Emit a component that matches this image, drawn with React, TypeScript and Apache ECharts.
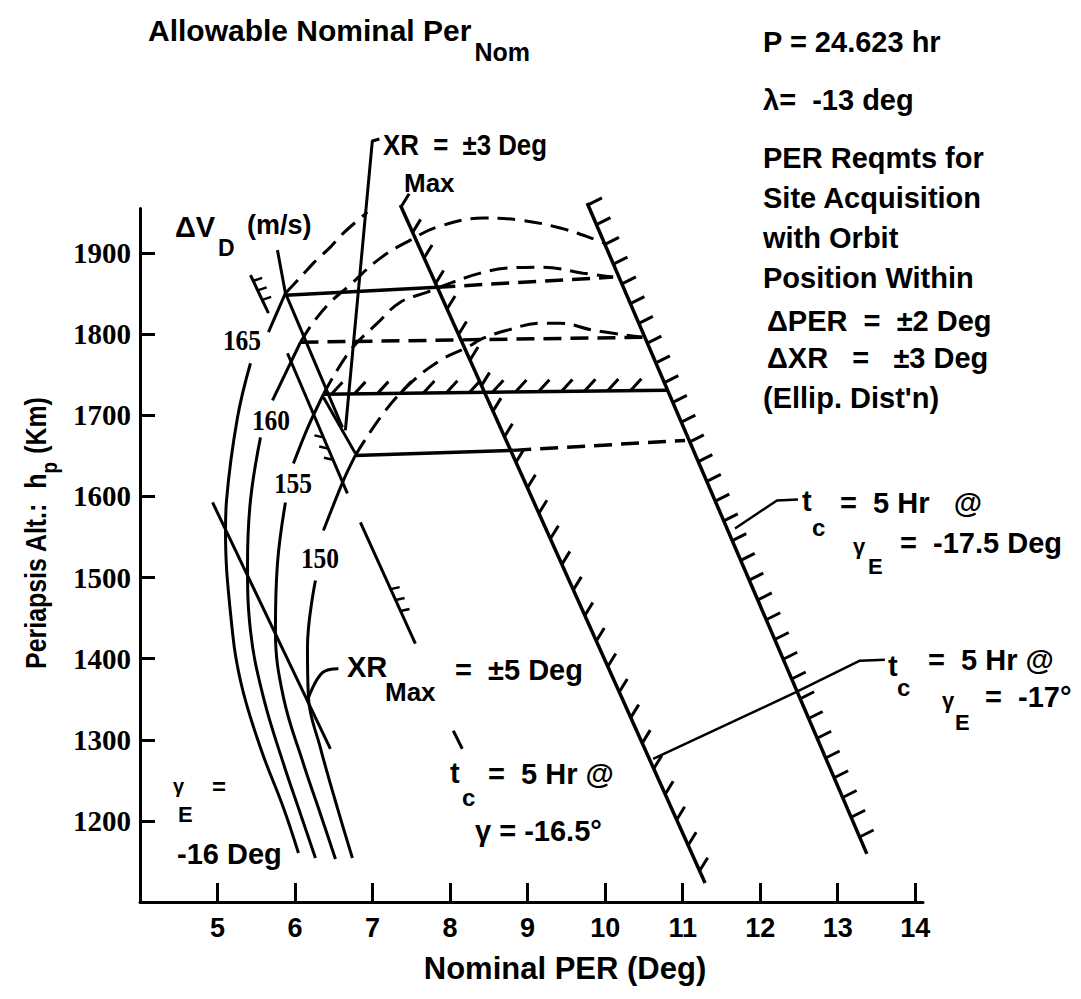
import React, { useEffect, useRef } from "react";
import * as echarts from "echarts";

type P = [number, number];

// ---- axes ----
const xTickValues = [5, 6, 7, 8, 9, 10, 11, 12, 13, 14];
const yTickValues = [1200, 1300, 1400, 1500, 1600, 1700, 1800, 1900];

// ---- ΔV_D contours (m/s): solid lower part, solid part above label gap, dashed continuation ----
const dv165Lower: P[] = [[6.044, 1160.5], [5.851, 1216.0], [5.554, 1290.1], [5.296, 1372.8], [5.168, 1455.6], [5.103, 1558.0], [5.116, 1595.1], [5.258, 1697.5], [5.425, 1764.2]];
const dv165Upper: P[] = [[5.657, 1802.5], [5.876, 1850.6]];
const dv165Dash: P[] = [[5.876, 1850.6], [6.095, 1872.8], [6.237, 1887.7], [6.456, 1907.4], [6.624, 1924.7], [6.933, 1950.6]];

const dv160Lower: P[] = [[6.263, 1154.3], [6.070, 1208.6], [5.851, 1270.4], [5.593, 1351.9], [5.425, 1434.6], [5.387, 1517.3], [5.425, 1595.1], [5.554, 1672.8]];
const dv160Upper: P[] = [[5.709, 1718.5], [6.070, 1790.1]];
const dv160Dash: P[] = [[6.070, 1790.1], [6.237, 1814.8], [6.456, 1839.5], [6.675, 1858.0], [7.101, 1893.8], [7.487, 1916.0], [7.835, 1932.1], [8.428, 1943.2], [8.905, 1940.7], [9.420, 1930.9], [9.897, 1916.0], [9.987, 1912.3]];

const dv155Lower: P[] = [[6.521, 1153.1], [6.327, 1208.6], [6.108, 1270.4], [5.851, 1351.9], [5.747, 1434.6], [5.773, 1517.3], [5.876, 1592.6]];
const dv155Upper: P[] = [[5.979, 1640.7], [6.160, 1684.0], [6.366, 1726.0]];
const dv155Dash: P[] = [[6.366, 1726.0], [6.714, 1780.2], [7.062, 1813.6], [7.358, 1839.5], [7.706, 1851.9], [8.003, 1863.0], [8.389, 1875.3], [8.737, 1881.5], [9.201, 1882.7], [9.716, 1875.3], [10.103, 1870.4]];

const dv150Lower: P[] = [[6.740, 1154.3], [6.546, 1216.0], [6.327, 1290.1], [6.173, 1351.9], [6.160, 1413.6], [6.263, 1496.3]];
const dv150Upper: P[] = [[6.366, 1558.0], [6.624, 1619.8], [6.778, 1650.6]];
const dv150Dash: P[] = [[6.778, 1650.6], [7.139, 1702.5], [7.487, 1739.5], [7.874, 1767.9], [8.222, 1784.0], [8.428, 1795.1], [8.737, 1804.9], [9.162, 1813.6], [9.420, 1813.6], [9.845, 1804.9], [10.477, 1796.3]];

// ---- allowable nominal PER bands (horizontal lines) ----
const per1850Solid: P[] = [[5.876, 1848.1], [7.835, 1858.0]];
const per1850Dash: P[] = [[7.835, 1858.0], [10.103, 1870.4]];
const per1790Dash: P[] = [[6.070, 1790.1], [10.490, 1796.3]];
const per1725Hatched = [6.366, 1726.0, 10.799, 1730.9];
const per1650Solid: P[] = [[6.778, 1650.6], [8.814, 1656.8]];
const per1650Dash: P[] = [[8.814, 1656.8], [11.031, 1669.1]];

// ---- t_c = 5 Hr boundaries (hatched) ----
const tcGamma165 = [7.358, 1959.3, 11.289, 1123.5];
const tcGamma175 = [9.768, 1961.7, 13.376, 1159.3];

// ---- cross-range lines on the left ----
const xrLineA: P[] = [[5.773, 1903.7], [5.876, 1850.6], [6.611, 1685.2]];
const xrLineBHatched = [5.902, 1776.5, 6.675, 1603.7];
const xrLineC: P[] = [[6.366, 1722.2], [6.778, 1653.1]];
const shortHatched = [5.425, 1872.8, 5.657, 1825.9];
const gamma16Line: P[] = [[4.936, 1592.6], [6.456, 1288.9]];
const xr5Hatched = [6.843, 1567.9, 7.552, 1418.5];
const xr3Line: P[] = [[7.088, 2040.7], [6.997, 2038.3], [6.649, 1681.5]];

// ---- label leaders ----
const leaderXR5: P[] = [[6.559, 1387.7], [6.353, 1382.7], [6.173, 1351.9]];
const leaderTc: P[] = [[8.041, 1311.1], [8.157, 1288.9]];
const leader175: P[] = [[12.487, 1596.3], [12.216, 1595.1], [11.675, 1560.5]];
const leader17: P[] = [[13.608, 1398.8], [13.286, 1397.5], [12.448, 1358.0], [10.619, 1276.5]];

const SANS = "'Liberation Sans', Arial, sans-serif";
const SERIF = "'Liberation Serif', 'Times New Roman', serif";
const SX = 1;
const DASH = [18, 9];

function line(data: P[], opts: { dash?: boolean; width?: number; smooth?: number } = {}) {
  return {
    type: "line",
    data,
    symbol: "none",
    showSymbol: false,
    smooth: opts.smooth ?? 0,
    clip: false,
    silent: true,
    animation: false,
    lineStyle: { color: "#000", width: opts.width ?? 3, type: opts.dash ? DASH : "solid", cap: "butt" },
  };
}

type Hatch = { width: number; tickWidth: number; tx: number; ty: number; step?: number; start?: number; end?: number; fractions?: number[] };

function hatched(seg: number[], cfg: Hatch) {
  return {
    type: "custom",
    clip: false,
    silent: true,
    data: [seg],
    encode: { x: [0, 2], y: [1, 3] },
    renderItem: (_p: any, api: any) => {
      const a = api.coord([api.value(0), api.value(1)]);
      const b = api.coord([api.value(2), api.value(3)]);
      const dx = b[0] - a[0];
      const dy = b[1] - a[1];
      const len = Math.hypot(dx, dy);
      const children: any[] = [
        { type: "line", shape: { x1: a[0], y1: a[1], x2: b[0], y2: b[1] }, style: { stroke: "#000", lineWidth: cfg.width } },
      ];
      const ts: number[] = cfg.fractions ? cfg.fractions.slice() : [];
      if (cfg.step) {
        for (let d = cfg.start ?? 0; d <= len - (cfg.end ?? 0); d += cfg.step) ts.push(d / len);
      }
      for (const t of ts) {
        const x = a[0] + dx * t;
        const y = a[1] + dy * t;
        children.push({ type: "line", shape: { x1: x, y1: y, x2: x + cfg.tx, y2: y + cfg.ty }, style: { stroke: "#000", lineWidth: cfg.tickWidth } });
      }
      return { type: "group", children };
    },
  };
}

let measureCtx: CanvasRenderingContext2D | null = null;
function measure(text: string, size: number, family = SANS, sx = SX) {
  if (!measureCtx) measureCtx = document.createElement("canvas").getContext("2d");
  if (!measureCtx) return text.length * size * 0.5 * sx;
  measureCtx.font = `bold ${size}px ${family}`;
  return measureCtx.measureText(text).width * sx;
}

function txt(x: number, y: number, text: string, size = 29, o: { align?: string; ff?: string; sx?: number } = {}) {
  const align = o.align ?? "left";
  return {
    type: "text",
    x,
    y,
    scaleX: o.sx ?? SX,
    silent: true,
    z: 100,
    style: {
      text,
      fontSize: size,
      fontWeight: "bold",
      fontFamily: o.ff ?? SANS,
      fill: "#000",
      align,
      textAlign: align,
      verticalAlign: "middle",
      textVerticalAlign: "middle",
    },
  };
}

function yAxisName() {
  const s = 0.86;
  const a = "Periapsis Alt.:";
  const h = "h";
  const p = "p";
  const k = "(Km)";
  const wa = measure(a, 29, SANS, s);
  const wh = measure(h, 29, SANS, s);
  const wp = measure(p, 22, SANS, s);
  const wk = measure(k, 29, SANS, s);
  const gap = 14;
  const total = wa + gap + wh + wp + 8 + wk;
  let x = -total / 2;
  const children: any[] = [];
  children.push(txt(x, 0, a, 29, { sx: s }));
  x += wa + gap;
  children.push(txt(x, 0, h, 29, { sx: s }));
  x += wh;
  children.push(txt(x, 13, p, 22, { sx: s }));
  x += wp + 8;
  children.push(txt(x, 0, k, 29, { sx: s }));
  return { type: "group", x: 36, y: 533, rotation: Math.PI / 2, children };
}

export default function App() {
  const ref = useRef<HTMLDivElement>(null);
  useEffect(() => {
    if (!ref.current) return;
    const chart = echarts.init(ref.current, undefined, { renderer: "svg" });

    const series: any[] = [
      line(dv165Lower, { smooth: 0.4 }),
      line(dv165Upper),
      line(dv165Dash, { dash: true, smooth: 0.3 }),
      line(dv160Lower, { smooth: 0.4 }),
      line(dv160Upper),
      line(dv160Dash, { dash: true, smooth: 0.4 }),
      line(dv155Lower, { smooth: 0.4 }),
      line(dv155Upper, { smooth: 0.3 }),
      line(dv155Dash, { dash: true, smooth: 0.4 }),
      line(dv150Lower, { smooth: 0.4 }),
      line(dv150Upper, { smooth: 0.3 }),
      line(dv150Dash, { dash: true, smooth: 0.4 }),
      line(per1850Solid, { width: 3.5 }),
      line(per1850Dash, { dash: true, width: 3.5 }),
      line(per1790Dash, { dash: true, width: 3.5 }),
      hatched(per1725Hatched, { width: 3.5, tickWidth: 3, tx: 11, ty: -12, step: 23, start: 8, end: 14 }),
      line(per1650Solid, { width: 3.5 }),
      line(per1650Dash, { dash: true, width: 3.5 }),
      hatched(tcGamma165, { width: 3.5, tickWidth: 3, tx: 8, ty: -13, step: 28, start: 2, end: 6 }),
      hatched(tcGamma175, { width: 3.5, tickWidth: 3, tx: 14, ty: -7, step: 21.5, start: 2, end: 4 }),
      line(xrLineA),
      hatched(xrLineBHatched, { width: 3, tickWidth: 2.5, tx: -9, ty: -2, fractions: [0.6, 0.68, 0.76] }),
      line(xrLineC),
      hatched(shortHatched, { width: 3, tickWidth: 2.5, tx: 9, ty: -3, fractions: [0.15, 0.4, 0.65] }),
      line(gamma16Line),
      hatched(xr5Hatched, { width: 3, tickWidth: 2.5, tx: 9, ty: -2, fractions: [0.55, 0.64, 0.73] }),
      line(xr3Line),
      line(leaderXR5, { smooth: 0.4 }),
      line(leaderTc),
      line(leader175, { width: 2.5 }),
      line(leader17, { width: 2.5 }),
    ];

    const title = "Allowable Nominal Per";
    const gText: any[] = [
      // title
      txt(148, 30, title, 30),
      txt(148 + measure(title, 30) + 3, 52, "Nom", 25),
      // right block
      txt(763, 42, "P = 24.623 hr", 29),
      txt(763, 100, "λ=  -13 deg", 29),
      txt(763, 158, "PER Reqmts for", 29),
      txt(763, 198, "Site Acquisition", 29),
      txt(763, 238, "with Orbit", 29),
      txt(763, 278, "Position Within", 29),
      txt(767, 321, "ΔPER  =  ±2 Deg", 29),
      txt(767, 358, "ΔXR   =   ±3 Deg", 29),
      txt(763, 398, "(Ellip. Dist'n)", 29),
      // ΔV_D label
      txt(175, 227, "ΔV", 29),
      txt(218, 248, "D", 23),
      txt(247, 225, "(m/s)", 27),
      // contour values
      txt(242, 340, "165", 30, { align: "center", ff: SERIF, sx: 0.85 }),
      txt(271, 420, "160", 30, { align: "center", ff: SERIF, sx: 0.85 }),
      txt(293, 483, "155", 30, { align: "center", ff: SERIF, sx: 0.85 }),
      txt(320, 558, "150", 30, { align: "center", ff: SERIF, sx: 0.85 }),
      // XR = ±3 Deg
      txt(383, 145, "XR  =  ±3 Deg", 29, { sx: 0.89 }),
      txt(404, 183, "Max", 26),
      // XR max = ±5
      txt(347, 667, "XR", 29),
      txt(385, 692, "Max", 26),
      txt(455, 670, "=  ±5 Deg", 29),
      // gamma E = -16
      txt(173, 786, "γ", 20),
      txt(178, 814, "E", 22),
      txt(212, 786, "=", 24),
      txt(177, 854, "-16 Deg", 29),
      // t_c middle
      txt(450, 773, "t", 29),
      txt(462, 797, "c", 24),
      txt(488, 774, "=  5 Hr @", 29),
      txt(475, 831, "γ = -16.5°", 29),
      // t_c right upper
      txt(802, 501, "t", 29),
      txt(812, 527, "c", 24),
      txt(840, 503, "=  5 Hr   @", 29),
      txt(853, 546, "γ", 22),
      txt(868, 566, "E", 22),
      txt(900, 543, "=  -17.5 Deg", 29),
      // t_c right lower
      txt(888, 666, "t", 29),
      txt(897, 687, "c", 24),
      txt(928, 660, "=  5 Hr @", 29),
      txt(942, 700, "γ", 22),
      txt(955, 722, "E", 22),
      txt(985, 697, "=  -17°", 29),
      // axis names
      txt(565, 968, "Nominal PER (Deg)", 31, { align: "center" }),
      yAxisName(),
    ];

    chart.setOption({
      animation: false,
      backgroundColor: "#fff",
      grid: { left: 140, right: 158, top: 208.5, bottom: 97, containLabel: false },
      xAxis: {
        type: "value",
        min: 4,
        max: 14.1,
        interval: 1,
        splitLine: { show: false },
        axisLine: { show: true, onZero: false, lineStyle: { color: "#000", width: 3 } },
        axisTick: { show: true, inside: true, length: 19, customValues: xTickValues, lineStyle: { color: "#000", width: 3 } },
        axisLabel: {
          customValues: xTickValues,
          formatter: (v: number) => String(v),
          color: "#000",
          fontSize: 27,
          fontWeight: "bold",
          fontFamily: SANS,
          margin: 12,
        },
      },
      yAxis: {
        type: "value",
        min: 1100,
        max: 1955,
        interval: 100,
        splitLine: { show: false },
        axisLine: { show: true, onZero: false, lineStyle: { color: "#000", width: 3 } },
        axisTick: { show: true, inside: true, length: 15, customValues: yTickValues, lineStyle: { color: "#000", width: 3 } },
        axisLabel: {
          customValues: yTickValues,
          formatter: (v: number) => String(v),
          color: "#000",
          fontSize: 29,
          fontWeight: "bold",
          fontFamily: SERIF,
          margin: 9,
        },
      },
      series,
      graphic: gText,
    });

    return () => chart.dispose();
  }, []);

  return <div ref={ref} style={{ position: "absolute", left: 0, top: 0, width: 1081, height: 999, background: "#fff" }} />;
}
